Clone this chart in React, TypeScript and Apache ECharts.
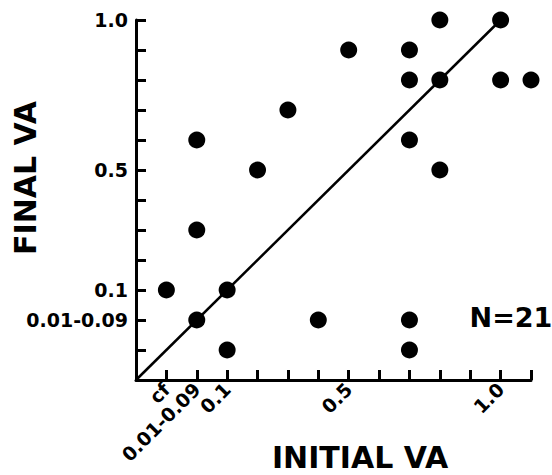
import React, { useEffect, useRef } from "react";
import * as echarts from "echarts";

// Ordinal visual-acuity levels used on both axes (index = position on the axis)
const levels = ["0", "cf", "0.01-0.09", "0.1", "0.2", "0.3", "0.4", "0.5", "0.6", "0.7", "0.8", "0.9", "1.0", ">1.0"];
const xTickLabels = ["", "cf", "0.01-0.09", "0.1", "", "", "", "0.5", "", "", "", "", "1.0", ""];
const yTickLabels = ["", "", "0.01-0.09", "0.1", "", "", "", "0.5", "", "", "", "", "1.0"];

// Each eye: initial VA level index, final VA level index
const initialVA = [1, 2, 2, 2, 3, 3, 4, 5, 6, 7, 9, 9, 9, 9, 9, 10, 10, 10, 12, 12, 13];
const finalVA = [3, 8, 5, 2, 3, 1, 7, 9, 2, 11, 11, 10, 8, 2, 1, 12, 10, 7, 12, 10, 10];

const identityLine = [[0, 0], [12, 12]];
const nLabel = "N=21";

const FONT = "'DejaVu Sans', 'Liberation Sans', Arial, sans-serif";

const tickLabelStyle = {
  color: "#000",
  fontFamily: FONT,
  fontWeight: 700,
  fontSize: 19,
};

export default function App() {
  const ref = useRef<HTMLDivElement>(null);
  useEffect(() => {
    document.body.style.margin = "0";
    const chart = echarts.init(ref.current!, null, { renderer: "svg" });
    const points = initialVA.map((x, i) => [x, finalVA[i]]);
    chart.setOption({
      animation: false,
      backgroundColor: "#ffffff",
      textStyle: { fontFamily: FONT, fontWeight: 700 },
      grid: { left: 136, right: 21, top: 20, bottom: 95, containLabel: false },
      xAxis: {
        type: "value",
        min: 0,
        max: levels.length - 1,
        interval: 1,
        splitLine: { show: false },
        axisLine: { show: true, onZero: false, lineStyle: { color: "#000", width: 3 } },
        axisTick: { show: true, inside: true, length: 10, lineStyle: { color: "#000", width: 3 } },
        axisLabel: {
          rotate: 45,
          margin: 6,
          ...tickLabelStyle,
          showMinLabel: true,
          showMaxLabel: true,
          formatter: (v: number) => xTickLabels[Math.round(v)] ?? "",
        },
      },
      yAxis: {
        type: "value",
        min: 0,
        max: 12,
        interval: 1,
        splitLine: { show: false },
        axisLine: { show: true, onZero: false, lineStyle: { color: "#000", width: 3 } },
        axisTick: { show: true, inside: true, length: 10, lineStyle: { color: "#000", width: 3 } },
        axisLabel: {
          margin: 8,
          ...tickLabelStyle,
          showMinLabel: true,
          showMaxLabel: true,
          formatter: (v: number) => yTickLabels[Math.round(v)] ?? "",
        },
      },
      series: [
        {
          type: "line",
          data: identityLine,
          symbol: "none",
          lineStyle: { color: "#000", width: 2.5 },
          z: 1,
        },
        {
          type: "scatter",
          data: points,
          symbol: "circle",
          symbolSize: 17,
          itemStyle: { color: "#000", opacity: 1 },
          z: 2,
        },
      ],
      graphic: [
        {
          type: "text",
          x: 25,
          y: 178,
          rotation: Math.PI / 2,
          style: {
            text: "FINAL VA",
            fill: "#000",
            font: `bold 30px ${FONT}`,
            textAlign: "center",
            textVerticalAlign: "middle",
          },
        },
        {
          type: "text",
          x: 360,
          y: 457,
          style: {
            text: "INITIAL VA",
            fill: "#000",
            font: `bold 30px ${FONT}`,
            textAlign: "center",
            textVerticalAlign: "middle",
          },
        },
        {
          type: "text",
          x: 511,
          y: 317,
          style: {
            text: nLabel,
            fill: "#000",
            font: `bold 27px ${FONT}`,
            textAlign: "center",
            textVerticalAlign: "middle",
          },
        },
      ],
    });
    return () => chart.dispose();
  }, []);
  return <div ref={ref} style={{ width: 552, height: 475 }} />;
}
